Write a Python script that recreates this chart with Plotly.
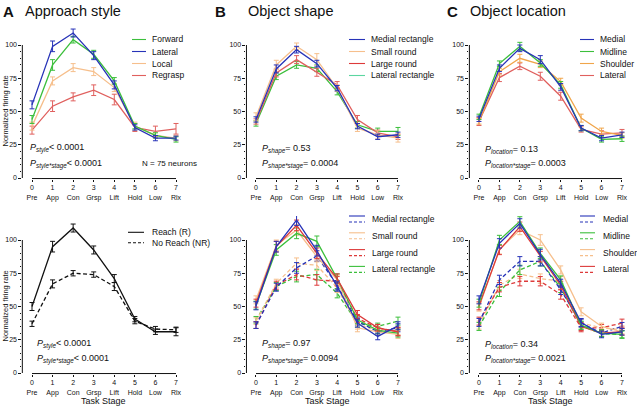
import plotly.graph_objects as go

# ---------------- data ----------------
stages = [0, 1, 2, 3, 4, 5, 6, 7]
stage_labels = ["Pre", "App", "Con", "Grsp", "Lift", "Hold", "Low", "Rlx"]
y_ticks = [0, 25, 50, 75, 100]

# A top: approach style
a_names = ["Forward", "Lateral", "Local", "Regrasp"]
a_forward = [44, 85, 104, 93, 73, 39, 32, 29]
a_lateral = [55, 99, 109, 92, 70, 38, 30, 30]
a_local = [39, 73, 83, 80, 68, 39, 32, 30]
a_regrasp = [36, 54, 61, 66, 59, 38, 35, 37]
a_forward_err = [3, 4, 2.5, 3, 2.5, 2, 2, 2]
a_lateral_err = [3, 4, 3, 3, 3, 2, 2, 1.5]
a_local_err = [3, 3, 3, 3, 3, 3, 2, 2]
a_regrasp_err = [3, 4, 3, 4, 4, 3, 4, 4]

# A bottom: reach vs no reach
ab_names = ["Reach (R)", "No Reach (NR)"]
ab_reach = [50, 95, 109, 92.5, 71, 40.5, 31, 31]
ab_noreach = [37, 67, 75, 74, 65, 39, 33, 32.5]
ab_reach_err = [3, 4, 3, 3, 3, 2, 2, 3]
ab_noreach_err = [2, 3, 2, 2, 3, 2, 2, 2]

# B top: object shape
b_names = ["Medial rectangle", "Small round", "Large round", "Lateral rectangle"]
b_medial = [44, 82, 96.5, 86, 67.5, 39, 31, 32.5]
b_small = [46, 85, 99, 89, 67.5, 37.5, 32.5, 30]
b_large = [42.5, 79, 89, 79.5, 70, 44, 34, 31]
b_lateral = [41, 76.5, 85, 82.5, 65, 40, 35, 35]
b_medial_err = [2, 3, 2.5, 2.5, 2, 2, 2, 2]
b_small_err = [3, 3.5, 2.5, 4.5, 2.5, 2.5, 3, 3]
b_large_err = [2, 3, 3, 3, 2.5, 3, 2, 2]
b_lateral_err = [2, 2.5, 2.5, 2.5, 2.5, 2.5, 2.5, 3]

# B bottom: object shape, reach (solid) / no reach (dashed)
bb_medial_r = [50.5, 95, 115, 92, 65, 37.5, 27.5, 35.5]
bb_small_r = [55, 96, 107.5, 87.5, 70, 34, 31, 29]
bb_large_r = [52.5, 95, 111, 90, 71, 44, 34, 31]
bb_lateral_r = [51, 92.5, 105, 99, 71, 40, 32, 30]
bb_medial_nr = [36, 64.5, 79, 88, 66, 39, 31, 34]
bb_small_nr = [39, 67.5, 82.5, 81, 64, 36, 32.5, 32]
bb_large_nr = [36, 66, 74, 70, 69, 41, 34, 31]
bb_lateral_nr = [40, 65, 72.5, 74, 60, 37.5, 35, 39]
bb_err_r = [3, 4, 4, 4, 3.5, 3, 2.5, 3]
bb_err_nr = [2.5, 3, 4, 4, 3.5, 3, 2.5, 3]

# C top: object location
c_names = ["Medial", "Midline", "Shoulder", "Lateral"]
c_medial = [44.5, 82.5, 97.5, 89, 68.5, 37.5, 30, 32.5]
c_midline = [46, 86, 99, 86.5, 70, 37.5, 29, 29.5]
c_shoulder = [42.5, 80, 90, 85.5, 72.5, 45, 35, 32]
c_lateral = [42.5, 75.5, 84, 76.5, 61.5, 36.5, 33, 34]
c_medial_err = [2, 2.5, 2.5, 3, 2.5, 2, 2, 2]
c_midline_err = [2, 2, 3, 2.5, 2.5, 2, 2, 2]
c_shoulder_err = [2, 2.5, 3, 2.5, 2.5, 3, 2.5, 2]
c_lateral_err = [3, 3, 2.5, 3, 3, 2, 2.5, 2.5]

# C bottom: object location, reach (solid) / no reach (dashed)
cb_medial_r = [55, 97.5, 112.5, 89, 67.5, 38, 29, 31]
cb_midline_r = [52.5, 100, 114, 90, 70, 36, 30, 29]
cb_shoulder_r = [49.5, 93, 107.5, 100, 77.5, 46, 35, 31]
cb_lateral_r = [50.5, 92.5, 110, 87.5, 66, 35, 30, 31]
cb_medial_nr = [38, 70, 84, 84, 62.5, 37.5, 30, 35]
cb_midline_nr = [35, 61, 77.5, 84, 64, 35.5, 29.5, 29]
cb_shoulder_nr = [36, 66, 74.5, 71, 69, 37.5, 34, 32.5]
cb_lateral_nr = [39, 64.5, 69, 69, 59, 34, 34, 37.5]
cb_err_r = [3, 3.5, 3.5, 4, 3, 3, 2.5, 2.5]
cb_err_nr = [3, 3.5, 3.5, 3.5, 3.5, 3, 2.5, 3]

# ---------------- styling ----------------
BLUE = "#2733b8"
GREEN = "#3cbf3c"
PEACH = "#f6bf8c"
RED = "#e0605e"
RED2 = "#dd3a3a"
ORANGE = "#f0a54a"
MINT = "#5cd6a0"
BLACK = "#111111"
FONT = "Liberation Sans, Arial, Helvetica, sans-serif"

W, H = 637, 406
fig = go.Figure()


def px_x(p):
    return p / W


def px_y(p):
    return (H - p) / H


YMIN, YMAX = -0.4, 118
panels = {
    # name: (tick0 px, tick7 px, y0 px, y100 px)
    "A1": (32, 176, 178, 45),
    "B1": (256, 398, 178, 45),
    "C1": (479, 622, 178, 45),
    "A2": (32, 176, 373, 240),
    "B2": (256, 398, 373, 240),
    "C2": (479, 622, 373, 240),
}
order = ["A1", "B1", "C1", "A2", "B2", "C2"]
XL, XR = -0.47, 7.3

shapes = []
annotations = []
layout_axes = {}
for i, key in enumerate(order, start=1):
    t0, t7, y0, y100 = panels[key]
    sx = (t7 - t0) / 7
    sy = (y0 - y100) / 100
    xd = [px_x(t0 + XL * sx), px_x(t0 + XR * sx)]
    yd = [px_y(y0 - YMIN * sy), px_y(y0 - YMAX * sy)]
    sfx = "" if i == 1 else str(i)
    layout_axes["xaxis" + sfx] = dict(
        domain=xd, range=[XL, XR], anchor="y" + sfx,
        tickmode="array", tickvals=stages,
        ticktext=[f"{s}<br>{l}" for s, l in zip(stages, stage_labels)],
        ticks="outside", ticklen=2.5, tickwidth=1, tickcolor=BLACK,
        showline=False, showgrid=False, zeroline=False, automargin=False,
        tickfont=dict(family=FONT, size=7, color=BLACK), fixedrange=True,
    )
    layout_axes["yaxis" + sfx] = dict(
        domain=yd, range=[YMIN, YMAX], anchor="x" + sfx,
        tickmode="array", tickvals=y_ticks,
        ticks="outside", ticklen=3, tickwidth=1, tickcolor=BLACK,
        minor=dict(tickmode="array",
                   tickvals=[v for v in range(0, 101, 5) if v % 25],
                   ticks="outside", ticklen=1.5, tickwidth=0.8, tickcolor=BLACK),
        showline=False, showgrid=False, zeroline=False, automargin=False,
        tickfont=dict(family=FONT, size=7, color=BLACK), fixedrange=True,
    )
    # axis lines (offset style)
    shapes.append(dict(type="line", xref=f"x{sfx} domain", yref=f"y{sfx}",
                       x0=0, x1=0, y0=0, y1=100,
                       line=dict(color=BLACK, width=1)))
    shapes.append(dict(type="line", xref=f"x{sfx}", yref=f"y{sfx} domain",
                       x0=0, x1=7, y0=0, y1=0,
                       line=dict(color=BLACK, width=1)))

fig.update_layout(**layout_axes)


def add(series, err, color, axis_i, dash="solid"):
    sfx = "" if axis_i == 1 else str(axis_i)
    fig.add_trace(go.Scatter(
        x=stages, y=series, mode="lines",
        line=dict(color=color, width=1.3, dash=dash),
        error_y=dict(type="data", array=err, visible=True, color=color,
                     thickness=1, width=2.5),
        xaxis="x" + sfx, yaxis="y" + sfx, showlegend=False,
        hoverinfo="skip"))


DASH = "4px,2.5px"

# A top
for s, e, c in [(a_regrasp, a_regrasp_err, RED), (a_local, a_local_err, PEACH),
                (a_forward, a_forward_err, GREEN), (a_lateral, a_lateral_err, BLUE)]:
    add(s, e, c, 1)
# B top
for s, e, c in [(b_lateral, b_lateral_err, GREEN), (b_large, b_large_err, RED),
                (b_small, b_small_err, PEACH), (b_medial, b_medial_err, BLUE)]:
    add(s, e, c, 2)
# C top
for s, e, c in [(c_lateral, c_lateral_err, RED), (c_shoulder, c_shoulder_err, ORANGE),
                (c_midline, c_midline_err, GREEN), (c_medial, c_medial_err, BLUE)]:
    add(s, e, c, 3)
# A bottom
add(ab_noreach, ab_noreach_err, BLACK, 4, DASH)
add(ab_reach, ab_reach_err, BLACK, 4)
# B bottom
for s, c in [(bb_lateral_nr, GREEN), (bb_small_nr, PEACH), (bb_large_nr, RED2), (bb_medial_nr, BLUE)]:
    add(s, bb_err_nr, c, 5, DASH)
for s, c in [(bb_small_r, PEACH), (bb_lateral_r, GREEN), (bb_large_r, RED2), (bb_medial_r, BLUE)]:
    add(s, bb_err_r, c, 5)
# C bottom
for s, c in [(cb_shoulder_nr, PEACH), (cb_midline_nr, GREEN), (cb_lateral_nr, RED2), (cb_medial_nr, BLUE)]:
    add(s, cb_err_nr, c, 6, DASH)
for s, c in [(cb_shoulder_r, PEACH), (cb_lateral_r, RED2), (cb_midline_r, GREEN), (cb_medial_r, BLUE)]:
    add(s, cb_err_r, c, 6)


# ---------------- text helpers ----------------
def text(x, y, t, size=8.5, anchor="left", color=BLACK, angle=0, valign="middle"):
    annotations.append(dict(
        x=px_x(x), y=px_y(y), xref="paper", yref="paper", text=t,
        showarrow=False, xanchor=anchor, yanchor=valign, textangle=angle,
        font=dict(family=FONT, size=size, color=color)))


def leg_line(x0, x1, y, color, dash="solid"):
    shapes.append(dict(type="line", xref="paper", yref="paper",
                       x0=px_x(x0), x1=px_x(x1), y0=px_y(y), y1=px_y(y),
                       line=dict(color=color, width=1.1,
                                 dash="3px,2px" if dash != "solid" else "solid")))


# panel titles
text(1, 11, "<b>A</b>", 15)
text(23, 11, "Approach style", 14.5)
text(213, 11, "<b>B</b>", 15)
text(246, 11, "Object shape", 14.5)
text(445, 11, "<b>C</b>", 15)
text(468, 11, "Object location", 14.5)

# legends top row
for names, cols, (lx0, lx1, tx) in [
        (a_names, [GREEN, BLUE, PEACH, RED], (132, 146, 150)),
        (b_names, [BLUE, PEACH, RED2, MINT], (349, 365, 369)),
        (c_names, [BLUE, GREEN, ORANGE, RED], (580, 594, 598))]:
    for k, (n, c) in enumerate(zip(names, cols)):
        yy = 39.5 + k * 12
        leg_line(lx0, lx1, yy, c)
        text(tx, yy, n, 8.5)

# legend A bottom
leg_line(128, 144, 232.3, BLACK)
text(150, 232.3, ab_names[0], 8.5)
leg_line(128, 144, 242.7, BLACK, "dash")
text(150, 242.7, ab_names[1], 8.5)

# legends B/C bottom
for names, cols, (lx0, lx1, tx) in [
        (b_names, [BLUE, PEACH, RED2, GREEN], (349, 365, 370)),
        (c_names, [BLUE, GREEN, PEACH, RED2], (580, 595, 601))]:
    for k, (n, c) in enumerate(zip(names, cols)):
        yy = 219 + k * 16.8
        leg_line(lx0, lx1, yy - 3, c)
        leg_line(lx0, lx1, yy + 3, c, "dash")
        text(tx, yy, n, 8.5)

# statistics
def ptxt(name, op, val):
    return f"<i>P</i><sub><i>{name}</i></sub>{op} {val}"

text(28, 148, ptxt("style", "<", "0.0001"), 9)
text(28, 164, ptxt("style*stage", "<", "0.0001"), 9)
text(140, 164, "N = 75 neurons", 8)
text(260, 149, ptxt("shape", "=", "0.53"), 9)
text(260, 164, ptxt("shape*stage", "=", "0.0004"), 9)
text(483, 149, ptxt("location", "=", "0.13"), 9)
text(483, 164, ptxt("location*stage", "=", "0.0003"), 9)
text(35, 344, ptxt("style", "<", "0.0001"), 9)
text(35, 359, ptxt("style*stage", "<", "0.0001"), 9)
text(260, 344, ptxt("shape", "=", "0.97"), 9)
text(260, 358.5, ptxt("shape*stage", "=", "0.0094"), 9)
text(483, 344, ptxt("location", "=", "0.34"), 9)
text(483, 358.5, ptxt("location*stage", "=", "0.0021"), 9)

# axis titles
text(5, 111.5, "Normalized firing rate", 7.5, anchor="center", angle=-90)
text(5, 306.5, "Normalized firing rate", 7.5, anchor="center", angle=-90)
for cx in [104, 327, 550.5]:
    text(cx, 401, "Task Stage", 9, anchor="center")

fig.update_layout(
    width=W, height=H, margin=dict(l=0, r=0, t=0, b=0),
    paper_bgcolor="white", plot_bgcolor="white",
    showlegend=False, shapes=shapes, annotations=annotations,
    font=dict(family=FONT, color=BLACK),
)

fig.write_html("out.html", config={"displayModeBar": False},
               post_script="document.body.style.margin='0';document.body.style.padding='0';")
